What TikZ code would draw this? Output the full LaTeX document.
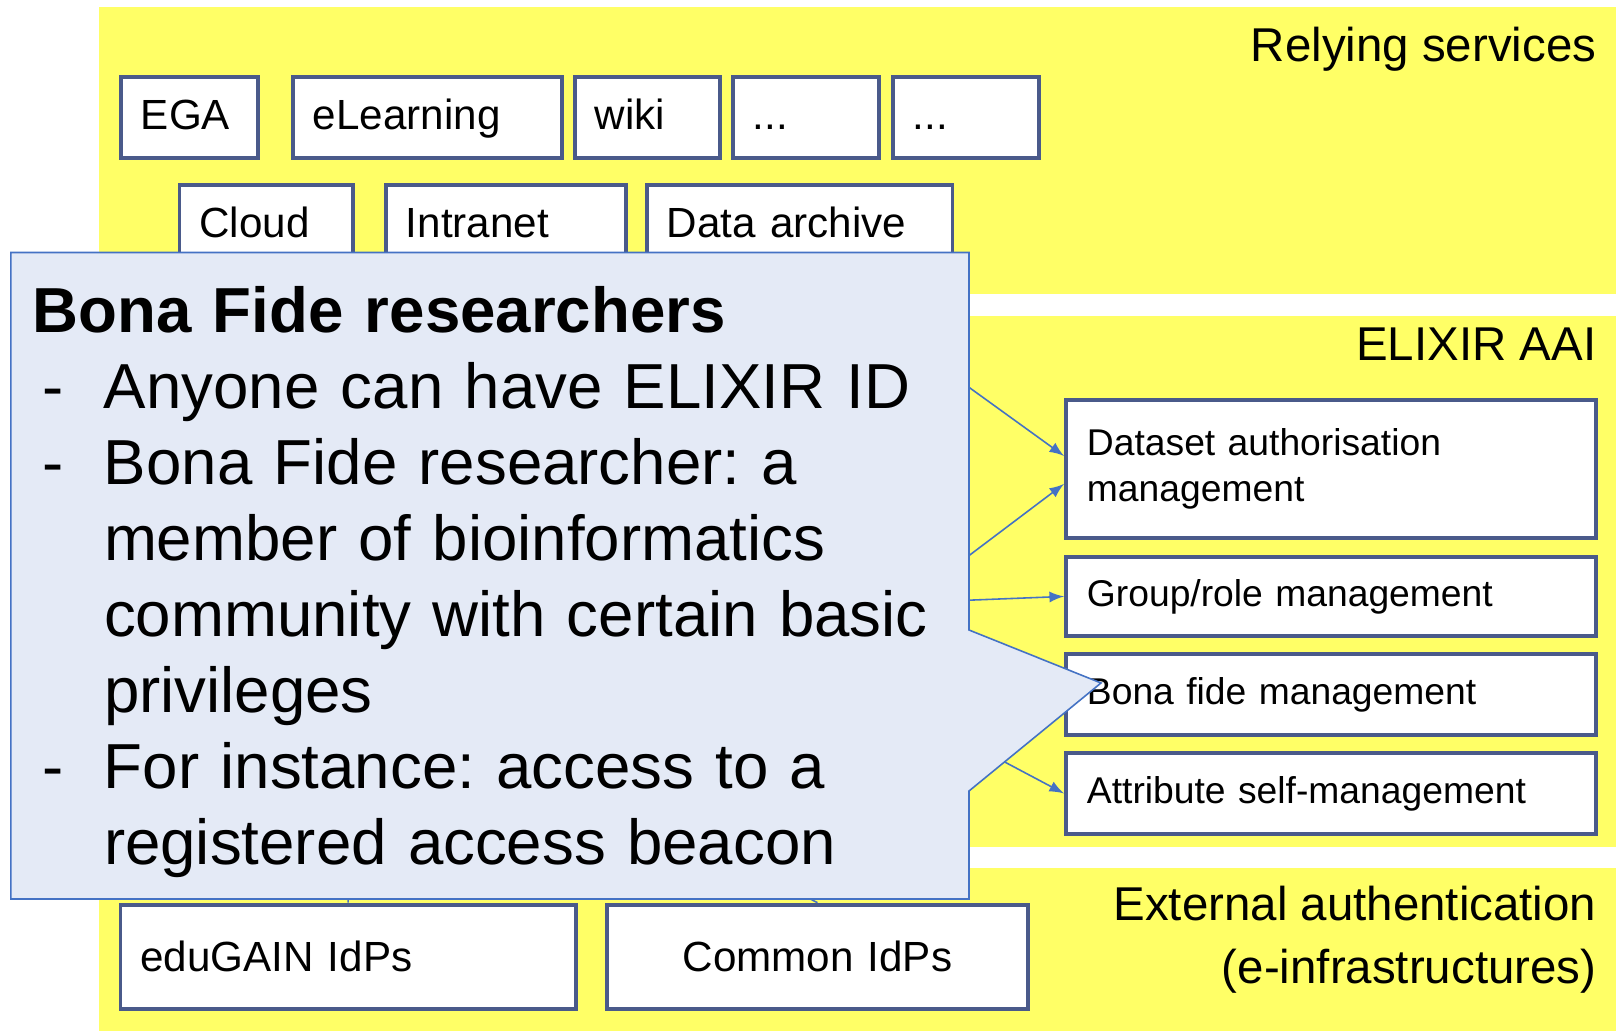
\documentclass[tikz,border=0pt]{standalone}
\usepackage{fontspec}
\setmainfont{Liberation Sans}
\usetikzlibrary{arrows,positioning}
\definecolor{bandyellow}{HTML}{FFFF66}
\definecolor{boxedge}{HTML}{4A5A8A}
\definecolor{noteblue}{HTML}{E4EAF6}
\definecolor{lineblue}{HTML}{4472C4}
\newcommand{\notedash}{\hangindent=0.713cm\hangafter=1\noindent\makebox[0.713cm][l]{\hspace{0.095cm}-}}

\begin{document}
\frenchspacing
\begin{tikzpicture}[
    band/.style={fill=bandyellow, draw=none},
    layer/.style={font=\fontsize{13.5}{16}\selectfont, inner sep=0pt},
    svc/.style={rectangle, draw=boxedge, fill=white, line width=1.1pt, anchor=north west,
                minimum height=0.81cm, inner xsep=0.2cm, inner ysep=0pt, text width=#1,
                text height=0.36cm, text depth=0.11cm,
                align=left, font=\fontsize{12}{14}\selectfont},
    aai/.style={rectangle, draw=boxedge, fill=white, line width=1.1pt, anchor=north west,
                minimum height=#1, inner xsep=0.21cm, inner ysep=0pt, text width=4.88cm,
                align=left, font=\fontsize{10.6}{13.1}\selectfont},
    idp/.style={rectangle, draw=boxedge, fill=white, line width=1.1pt, anchor=north west,
                minimum height=1.04cm, inner xsep=0.2cm, inner ysep=0pt, text width=#1,
                font=\fontsize{12}{14}\selectfont},
    note/.style={fill=noteblue, draw=lineblue, line width=0.45pt},
    flow/.style={draw=lineblue, line width=0.45pt}
]
    \useasboundingbox (0,0) rectangle (16.16,-10.31);

    % Layers
    \fill[band] (0.99,-0.07) rectangle (16.16,-2.94);
    \fill[band] (0.99,-3.16) rectangle (16.16,-8.47);
    \fill[band] (0.99,-8.68) rectangle (16.16,-10.31);
    \node[layer, anchor=base east] (relying) at (15.97,-0.62) {Relying services};
    \node[layer, anchor=base east] (aailabel) at (15.97,-3.61) {ELIXIR AAI};
    \node[layer, anchor=base east] (ext1) at (15.97,-9.20) {External authentication};
    \node[layer, anchor=base east] (ext2) at (15.97,-9.83) {(e-infrastructures)};

    % Relying services
    \node[svc=0.97cm] (ega) at (1.19,-0.75) {EGA};
    \node[svc=2.29cm] (elearning) at (2.91,-0.75) {eLearning};
    \node[svc=1.05cm] (wiki) at (5.73,-0.75) {wiki};
    \node[svc=1.06cm] (more1) at (7.31,-0.75) {...};
    \node[svc=1.06cm] (more2) at (8.91,-0.75) {...};
    \node[svc=1.335cm] (cloud) at (1.775,-1.83) {Cloud};
    \node[svc=2.0cm] (intranet) at (3.84,-1.83) {Intranet};
    \node[svc=2.655cm] (archive) at (6.45,-1.83) {Data archive};

    % ELIXIR AAI services
    \node[aai=1.38cm] (dataset) at (10.64,-3.98) {Dataset authorisation\\management};
    \node[aai=0.79cm] (group) at (10.64,-5.55) {Group/role management};
    \node[aai=0.81cm] (bonafide) at (10.64,-6.525) {Bona fide management};
    \node[aai=0.81cm] (attribute) at (10.64,-7.51) {Attribute self-management};

    % External authentication
    \node[idp=4.155cm, align=left] (edugain) at (1.185,-9.027) {eduGAIN IdPs};
    \node[idp=3.81cm, align=center] (common) at (6.05,-9.027) {Common IdPs};

    % Connectors (mostly under the callout)
    \coordinate (hub1) at (8.73,-3.18);
    \coordinate (hub2) at (8.73,-6.28);
    \coordinate (hub3) at (8.73,-6.04);
    \coordinate (hub4) at (9.50,-7.33);
    \coordinate (hub5) at (3.4625,-8.6);
    \coordinate (hub6) at (6.655,-8.23);
    \draw[flow, -latex] (hub1) -- ([yshift=0.13cm]dataset.west);
    \draw[flow, -latex] (hub2) -- ([yshift=-0.15cm]dataset.west);
    \draw[flow, -latex] (hub3) -- (group.west);
    \draw[flow, -latex] (hub4) -- (attribute.west);
    \draw[flow] (hub5) -- (edugain.north);
    \draw[flow] (hub6) -- (common.north);

    % Callout
    \draw[note] (0.108,-2.525) -- (9.69,-2.525) -- (9.69,-6.30) -- (11.01,-6.83)
        -- (9.69,-7.91) -- (9.69,-8.99) -- (0.108,-8.99) -- cycle;
    \node[anchor=base west, inner sep=0pt, text width=9.2cm, align=left,
          font=\fontsize{18.1}{21.6}\selectfont] (researchers) at (0.32,-3.328) {%
        \textbf{Bona Fide researchers}\par
        \notedash Anyone can have ELIXIR ID\par
        \notedash Bona Fide researcher: a\newline member of bioinformatics\newline
            community with certain basic\newline privileges\par
        \notedash For instance: access to a\newline registered access beacon\par};
\end{tikzpicture}
\end{document}
